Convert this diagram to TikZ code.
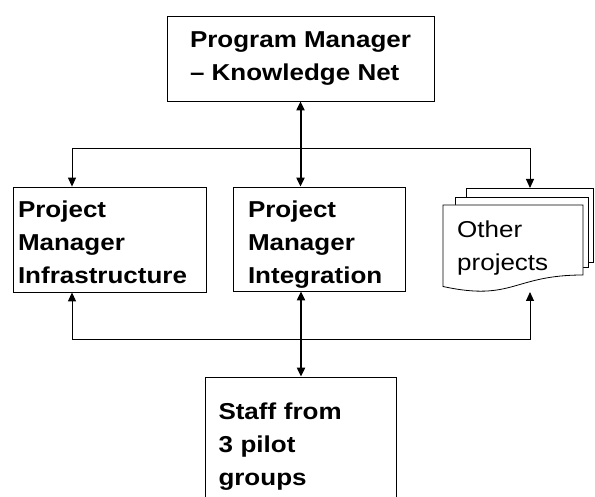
\documentclass[tikz,border=0pt]{standalone}
\usepackage{fontspec}
\setmainfont{Liberation Sans}[FakeStretch=1.13]
\usetikzlibrary{arrows.meta}
\newcommand\capline[1]{\rule{0pt}{#1}}
\begin{document}
\begin{tikzpicture}[x=1pt,y=-1pt,
  box/.style={draw,line width=0.8pt,font=\fontsize{23}{33}\selectfont\bfseries,align=left,inner ysep=0pt},
  bus/.style={line width=1pt,-{Triangle[length=9pt,width=8pt]}},
  main/.style={line width=2pt,{Triangle[length=9pt,width=8pt]}-{Triangle[length=9pt,width=8pt]}},
  page/.style={draw,line width=0.8pt,fill=white}]
  \useasboundingbox (0,0) rectangle (595,497);
  \clip (0,0) rectangle (595,497);
  \node[box,minimum width=267pt,minimum height=85pt] (pm) at (300.5,58.5){Program Manager\\– Knowledge Net};
  \node[box,minimum width=193pt,minimum height=105pt,text width=183pt,inner xsep=5pt] (infra) at (109.5,239.5){\capline{23pt}Project\\Manager\\Infrastructure};
  \node[box,minimum width=172pt,minimum height=104pt,text width=142pt,inner xsep=15pt] (integ) at (319,239){\capline{28.8pt}Project\\Manager\\Integration};
  \node[box,minimum width=191pt,minimum height=136pt,text width=165pt,inner xsep=13pt] (staff) at (301,445){\capline{19pt}Staff from\\3 pilot\\groups};
  % other projects (stacked pages)
  \path[page] (466,188) rectangle (593,262);
  \path[page] (455,197) rectangle (588,267);
  \path[page] (443,205) -- (583,205) -- (583,275) .. controls (513,275) and (513,301.7) .. (443,286.5) -- cycle;
  \node[anchor=north west,inner sep=0pt,align=left,font=\fontsize{23}{33}\selectfont] (other) at (457,221){Other\\projects};
  \coordinate (tbus) at (300.5,149);
  \coordinate (bbus) at (301,340);
  \coordinate (otop) at (530,188);
  \coordinate (obot) at (530,292);
  \draw[main] (pm.south) -- (pm.south |- integ.north);
  \draw[main] (staff.north) -- (staff.north |- integ.south);
  \draw[bus] (tbus) -| ([xshift=-37.5pt]infra.north);
  \draw[bus] (tbus) -| (otop);
  \draw[bus] (bbus) -| ([xshift=-37.5pt]infra.south);
  \draw[bus] (bbus) -| (obot);
\end{tikzpicture}
\end{document}
